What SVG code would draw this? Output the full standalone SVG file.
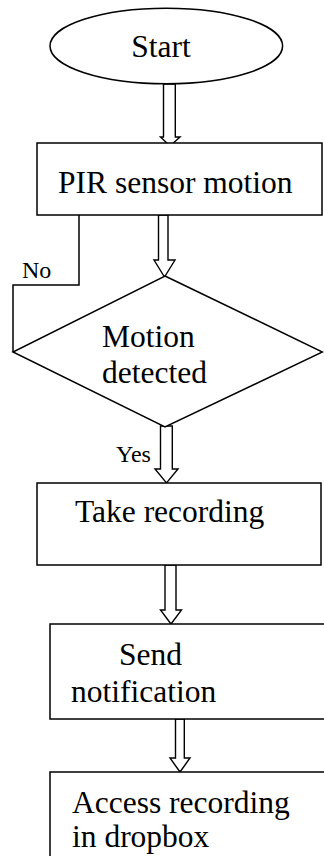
<svg xmlns="http://www.w3.org/2000/svg" width="324" height="856" viewBox="0 0 324 856">
<style>
.s{fill:#fff;stroke:#000;stroke-width:1.5}
.a{fill:#fff;stroke:#000;stroke-width:1.4;stroke-linejoin:miter}
.l{fill:none;stroke:#000;stroke-width:1.5}
text{font-family:"Liberation Serif","Times New Roman",serif;font-size:31.5px;fill:#000}
.sm{font-size:24px}
</style>
<rect width="324" height="856" fill="#fff"/>
<g id="connectors">
<polygon class="a" points="163.5,84 175.3,84 175.3,137 180,137 170,146 160.5,137 163.5,137"/>
<polygon class="a" points="158.5,215 168,215 168,260 175,260 164.5,277 154,260 158.5,260"/>
<polyline class="l" points="79,215 79,285 13,285 13,352"/>
<polygon class="a" points="160.5,426 172.3,426 172.3,469 178,469 166.5,483 155,469 160.5,469"/>
<polygon class="a" points="165,565 176,565 176,610 181.5,610 171,624 160.5,610 165,610"/>
<polygon class="a" points="175.5,719 184.3,719 184.3,758 190,758 180,772 170,758 175.5,758"/>
</g>
<g id="start">
<ellipse class="s" cx="166.3" cy="46" rx="116.3" ry="37.8"/>
<text x="161" y="57" text-anchor="middle">Start</text>
</g>
<g id="pir">
<rect class="s" x="37" y="143" width="285" height="72"/>
<text x="58" y="193">PIR sensor motion</text>
</g>
<g id="label-no"><text class="sm" x="22" y="278">No</text></g>
<g id="decision">
<polygon class="s" points="165,276 322.5,352 165,427 13,352"/>
<text x="102" y="347">Motion</text>
<text x="102" y="383">detected</text>
</g>
<g id="label-yes"><text class="sm" x="116" y="462">Yes</text></g>
<g id="take">
<rect class="s" x="37" y="483" width="284" height="82"/>
<text x="75" y="522">Take recording</text>
</g>
<g id="send">
<rect class="s" x="50" y="624" width="280" height="95"/>
<text x="119" y="665">Send</text>
<text x="71" y="702">notification</text>
</g>
<g id="access">
<rect class="s" x="50" y="772" width="280" height="100"/>
<text x="72" y="813">Access recording</text>
<text x="72" y="847">in dropbox</text>
</g>
</svg>
